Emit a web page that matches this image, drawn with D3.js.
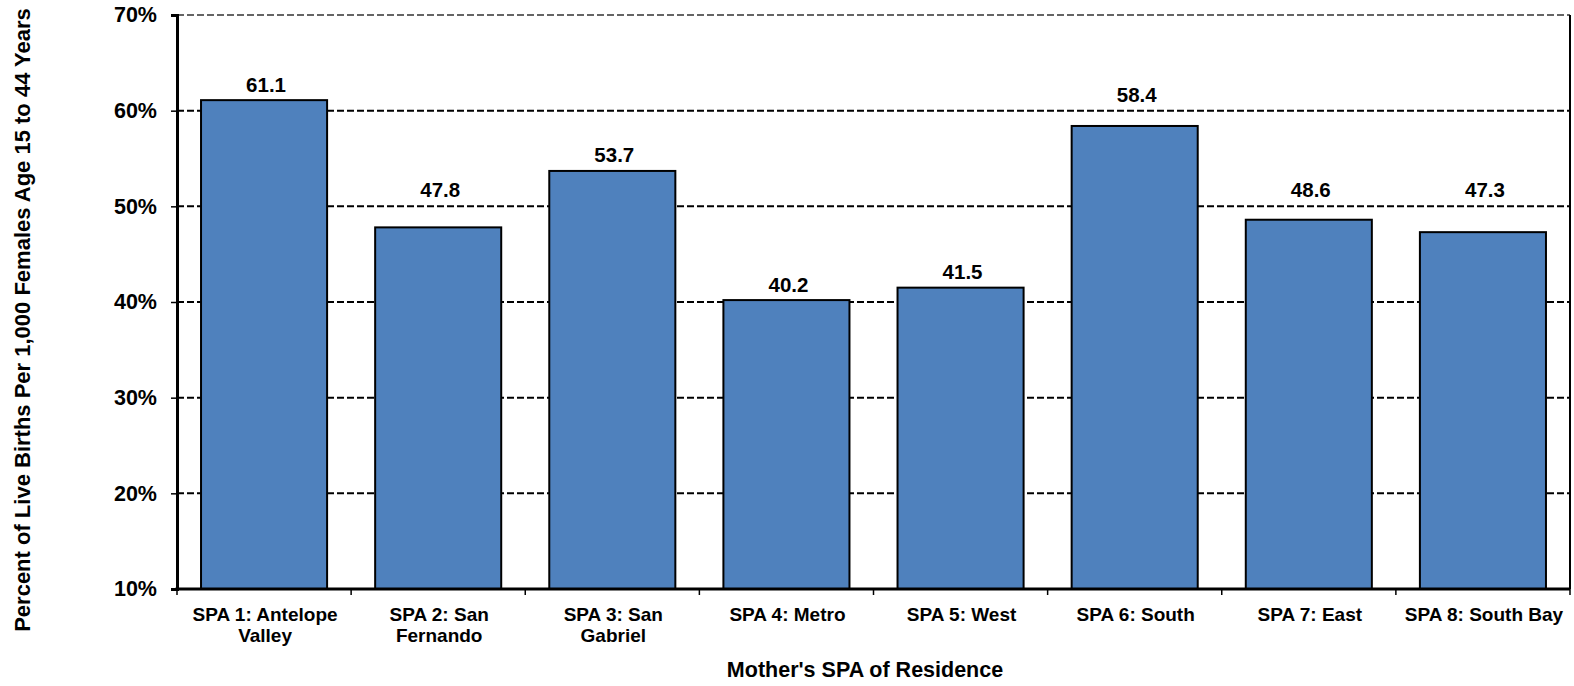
<!DOCTYPE html>
<html><head><meta charset="utf-8">
<script src="https://cdn.jsdelivr.net/npm/d3@7"></script>
<style>body{margin:0;background:#fff}text{font-family:"Liberation Sans",Arial,sans-serif;font-weight:bold;fill:#000}</style>
</head><body><svg id="c" width="1574" height="686"></svg>
<script>
const categories = [["SPA 1: Antelope","Valley"],["SPA 2: San","Fernando"],["SPA 3: San","Gabriel"],["SPA 4: Metro"],["SPA 5: West"],["SPA 6: South"],["SPA 7: East"],["SPA 8: South Bay"]];
const values = [61.1, 47.8, 53.7, 40.2, 41.5, 58.4, 48.6, 47.3];
const yTicks = [10, 20, 30, 40, 50, 60, 70];
const xTitle = "Mother's SPA of Residence";
const yTitle = "Percent of Live Births Per 1,000 Females Age 15 to 44 Years";

const svg = d3.select("#c");
const m = {l:177, r:1570, t:15, b:589};
const x = d3.scaleBand().domain(d3.range(values.length)).range([m.l, m.r]).paddingInner(0.276).paddingOuter(0.138);
const y = d3.scaleLinear().domain([10,70]).range([m.b, m.t]);

// gridlines
svg.append("g").selectAll("line").data(yTicks.slice(1)).join("line")
  .attr("x1", m.l).attr("x2", m.r).attr("y1", d=>y(d)).attr("y2", d=>y(d))
  .attr("stroke",d=>d===70?"#333":"#000").attr("stroke-width",d=>d===70?1.5:2).attr("stroke-dasharray","7,3");

// bars
svg.append("g").selectAll("rect").data(values).join("rect")
  .attr("x",(d,i)=>x(i)).attr("width",x.bandwidth())
  .attr("y",d=>y(d)).attr("height",d=>y(10)-y(d))
  .attr("fill","#4f81bd").attr("stroke","#000").attr("stroke-width",2);

// value labels: placed above bar; if they would cross a gridline, lift them above it
function labelY(v){
  let base = y(v) - 8.5, top = base - 15;
  for (const t of yTicks){
    const gy = y(t);
    if (gy >= top - 3 && gy <= base + 3) { base = gy - 9; top = base - 15; }
  }
  return base;
}
svg.append("g").selectAll("text").data(values).join("text")
  .attr("x",(d,i)=>x(i)+x.bandwidth()/2+2).attr("y",d=>labelY(d))
  .attr("text-anchor","middle").style("font-size","20.5px").text(d=>d.toFixed(1));

// right border
svg.append("line").attr("x1",m.r).attr("x2",m.r).attr("y1",m.t).attr("y2",m.b).attr("stroke","#000").attr("stroke-width",2);

// y axis
const ya = d3.axisLeft(y).tickValues(yTicks).tickFormat(d=>d+"%").tickSize(6).tickPadding(14);
const yg = svg.append("g").attr("transform",`translate(${m.l},0)`).call(ya);
yg.select(".domain").attr("stroke","#000").attr("stroke-width",3);
yg.selectAll(".tick line").attr("stroke","#000").attr("stroke-width",1.5);
yg.selectAll(".tick text").style("font-size","21.5px").style("font-family","Liberation Sans, Arial, sans-serif").style("font-weight","bold").attr("fill","#000");

// x axis
const boundaries = d3.range(values.length+1).map(i=>m.l + i*(m.r-m.l)/values.length);
svg.append("line").attr("x1",m.l-1.5).attr("x2",m.r).attr("y1",m.b).attr("y2",m.b).attr("stroke","#000").attr("stroke-width",3);
svg.append("g").selectAll("line").data(boundaries).join("line")
  .attr("x1",d=>d).attr("x2",d=>d).attr("y1",m.b).attr("y2",m.b+6).attr("stroke","#000").attr("stroke-width",1.5);

const xl = svg.append("g").selectAll("text").data(categories).join("text")
  .attr("text-anchor","middle").style("font-size","19px")
  .attr("transform",(d,i)=>`translate(${x(i)+x.bandwidth()/2+1},621)`);
xl.selectAll("tspan").data(d=>d).join("tspan").attr("x",0).attr("dy",(d,i)=>i?21:0).text(d=>d);

svg.append("text").attr("x",865).attr("y",677).attr("text-anchor","middle").style("font-size","21.5px").text(xTitle);
svg.append("text").attr("transform","translate(30,320) rotate(-90)").attr("text-anchor","middle").style("font-size","22px").text(yTitle);
</script></body></html>
